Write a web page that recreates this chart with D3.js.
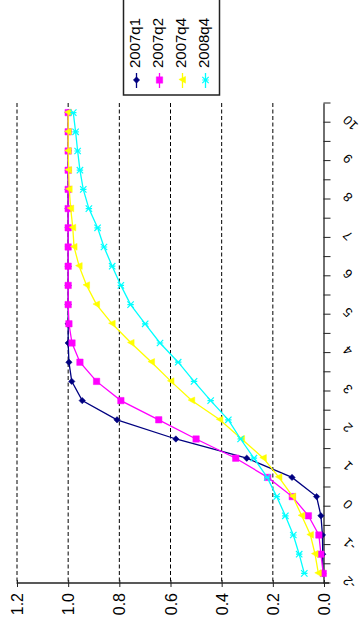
<!DOCTYPE html>
<html>
<head>
<meta charset="utf-8">
<script src="https://cdn.jsdelivr.net/npm/d3@7"></script>
<style>
  html, body { margin: 0; padding: 0; background: #fff; }
  svg { display: block; font-family: "Liberation Sans", Arial, sans-serif; }
</style>
</head>
<body>
<svg id="chart"></svg>
<script>
// categories on the (rotated) horizontal axis of the original chart
const categories = [-2, -1.5, -1, -0.5, 0, 0.5, 1, 1.5, 2, 2.5, 3, 3.5, 4, 4.5, 5, 5.5, 6, 6.5, 7, 7.5, 8, 8.5, 9, 9.5, 10];
const categoryLabels = [-2, -1, 0, 1, 2, 3, 4, 5, 6, 7, 8, 9, 10];
const valueTicks = [0, 0.2, 0.4, 0.6, 0.8, 1.0, 1.2];

const q2007q1 = [0.005, 0.005, 0.006, 0.012, 0.029, 0.125, 0.302, 0.579, 0.809, 0.945, 0.986, 0.997, 1.0, 1.0, 1.0, 1.0, 1.0, 1.0, 1.0, 1.0, 1.0, 1.0, 1.0, 1.0, 1.0];
const q2007q2 = [0.003, 0.012, 0.020, 0.061, 0.124, 0.220, 0.345, 0.500, 0.646, 0.794, 0.889, 0.954, 0.985, 0.997, 1.0, 1.0, 1.0, 1.0, 1.0, 1.0, 1.0, 1.0, 1.0, 1.0, 1.0];
const q2007q4 = [0.022, 0.035, 0.053, 0.087, 0.122, 0.176, 0.237, 0.322, 0.407, 0.517, 0.598, 0.674, 0.754, 0.828, 0.889, 0.928, 0.957, 0.977, 0.982, 0.990, 0.996, 0.998, 1.0, 1.0, 1.0];
const q2008q4 = [0.077, 0.097, 0.120, 0.151, 0.185, 0.222, 0.274, 0.326, 0.374, 0.443, 0.508, 0.570, 0.641, 0.699, 0.756, 0.794, 0.828, 0.860, 0.885, 0.919, 0.941, 0.954, 0.963, 0.971, 0.980];

const seriesNames = ["2007q1", "2007q2", "2007q4", "2008q4"];
const seriesColors = ["#000080", "#ff00ff", "#ffff00", "#00ffff"];
const seriesShapes = ["diamond", "square", "triangle", "cross"];

const width = 362;
const height = 627;
// the chart is drawn turned a quarter turn: values run right-to-left, categories bottom-to-top
const plot = { left: 17, right: 324, top: 103, bottom: 583 };

const svg = d3.select("#chart").attr("width", width).attr("height", height);

const xScale = d3.scaleLinear().domain([0, 1.2]).range([plot.right, plot.left]);
const yScale = d3.scaleBand().domain(categories).range([plot.bottom, plot.top]).padding(0);
const bw = yScale.bandwidth();
const yc = (c) => yScale(c) + bw / 2;

// grid
svg.append("g")
  .selectAll("line")
  .data(valueTicks.filter((d) => d > 0))
  .join("line")
  .attr("x1", (d) => xScale(d))
  .attr("x2", (d) => xScale(d))
  .attr("y1", plot.top)
  .attr("y2", plot.bottom)
  .attr("stroke", "#000")
  .attr("stroke-width", 1)
  .attr("stroke-dasharray", "4,2.5");

// value axis (bottom)
const xAxis = svg.append("g")
  .attr("transform", `translate(0, ${plot.bottom})`)
  .call(d3.axisBottom(xScale).tickValues(valueTicks).tickSize(4).tickSizeOuter(0).tickFormat(d3.format(".1f")));
xAxis.select(".domain").attr("stroke", "#222").attr("stroke-width", 1.3).attr("d", `M${plot.left - 0.5},0H${plot.right + 5}`);
xAxis.selectAll(".tick line").attr("stroke", "#222").attr("y1", -3);
xAxis.selectAll(".tick text")
  .attr("y", null)
  .attr("dy", null)
  .attr("transform", "translate(5.5, 10) rotate(-90)")
  .attr("text-anchor", "end")
  .attr("font-size", 16)
  .attr("fill", "#000");

// category axis (right)
const yAxis = svg.append("g")
  .attr("transform", `translate(${plot.right - 0.5}, 0)`)
  .call(d3.axisRight(yScale).tickValues(categoryLabels).tickSize(0).tickSizeOuter(0));
yAxis.select(".domain").attr("stroke", "#222").attr("stroke-width", 1.3);
yAxis.selectAll(".tick text")
  .attr("x", null)
  .attr("dy", null)
  .attr("transform", "translate(25, 2) rotate(-135)")
  .attr("text-anchor", "end")
  .attr("font-size", 13)
  .attr("fill", "#000");

const boundaries = categories.map((c) => yScale(c) + bw).concat([yScale(categories[categories.length - 1])]);
yAxis.append("g")
  .selectAll("line")
  .data(boundaries)
  .join("line")
  .attr("x1", 0)
  .attr("x2", 7)
  .attr("y1", (d) => d)
  .attr("y2", (d) => d)
  .attr("stroke", "#222")
  .attr("stroke-width", 1);

// markers
const symbolPath = (shape) => {
  if (shape === "diamond") return "M0,-3.2L3.2,0L0,3.2L-3.2,0Z";
  if (shape === "square") return "M-3.2,-3.2H3.2V3.2H-3.2Z";
  if (shape === "triangle") return "M-3.6,-0.6L3,-3.6L3,3.2Z";
  return "M-3.2,-3.2L3.2,3.2M-3.2,3.2L3.2,-3.2M-3.2,0H3.2";
};

const allSeries = [q2007q1, q2007q2, q2007q4, q2008q4];
const line = d3.line()
  .x((d) => xScale(d.v))
  .y((d) => yc(d.c));

allSeries.forEach((values, i) => {
  const pts = values.map((v, j) => ({ c: categories[j], v }));
  const g = svg.append("g");
  g.append("path")
    .datum(pts)
    .attr("d", line)
    .attr("fill", "none")
    .attr("stroke", seriesColors[i])
    .attr("stroke-width", 1.3);
  g.selectAll("path.marker")
    .data(pts)
    .join("path")
    .attr("class", "marker")
    .attr("transform", (d) => `translate(${xScale(d.v)}, ${yc(d.c)})`)
    .attr("d", symbolPath(seriesShapes[i]))
    .attr("fill", seriesShapes[i] === "cross" ? "none" : seriesColors[i])
    .attr("stroke", seriesColors[i])
    .attr("stroke-width", seriesShapes[i] === "cross" ? 1.2 : 0.5);
});

// legend
const legend = svg.append("g");
legend.append("rect")
  .attr("x", 123.5)
  .attr("y", -2)
  .attr("width", 96)
  .attr("height", 97)
  .attr("fill", "#fff")
  .attr("stroke", "#222")
  .attr("stroke-width", 1.5);

seriesNames.forEach((name, i) => {
  const tx = 140 + i * 23;
  const item = legend.append("g");
  item.append("text")
    .attr("transform", `translate(${tx}, 68) rotate(-90)`)
    .attr("font-size", 15)
    .attr("fill", "#000")
    .text(name);
  item.append("line")
    .attr("x1", tx - 3.5)
    .attr("x2", tx - 3.5)
    .attr("y1", 73)
    .attr("y2", 88)
    .attr("stroke", seriesColors[i])
    .attr("stroke-width", 1.3);
  item.append("path")
    .attr("transform", `translate(${tx - 3.5}, 80)`)
    .attr("d", symbolPath(seriesShapes[i]))
    .attr("fill", seriesShapes[i] === "cross" ? "none" : seriesColors[i])
    .attr("stroke", seriesColors[i])
    .attr("stroke-width", seriesShapes[i] === "cross" ? 1.2 : 0.5);
});
</script>
</body>
</html>
